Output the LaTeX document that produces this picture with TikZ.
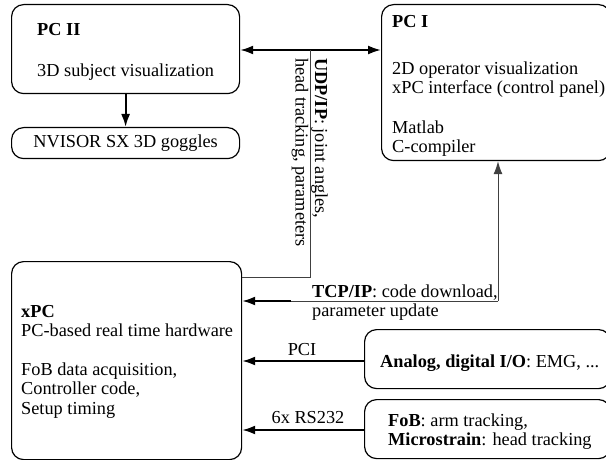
\documentclass[tikz,border=0pt]{standalone}
\usepackage{fontspec}
\setmainfont{Liberation Serif}
\usetikzlibrary{arrows.meta,calc}
\newcommand\dfont{\fontsize{18.3}{19.5}\selectfont}
\begin{document}
\begin{tikzpicture}[x=1pt,y=-1pt,
  box/.style={draw=black, line width=1.2pt, rounded corners=12pt, inner sep=0pt},
  tl/.style={inner sep=0pt, anchor=base west, font=\dfont},
  lbl/.style={inner sep=0pt, font=\dfont},
  arr/.style={line width=2pt, -{Latex[length=13pt,width=9pt]}},
  thinl/.style={draw=black!75, line width=1pt}]
\useasboundingbox (0,0) rectangle (606,460);
\clip (0,0) rectangle (606,460);
% boxes
\node[box, minimum width=228pt, minimum height=89pt, anchor=north west] (pc2) at (11,4) {};
\node[box, minimum width=228pt, minimum height=31pt, anchor=north west] (nv) at (11,127) {};
\node[box, minimum width=229pt, minimum height=156pt, anchor=north west] (pc1) at (381,4) {};
\node[box, minimum width=230pt, minimum height=198pt, anchor=north west] (xpc) at (11,261) {};
\node[box, minimum width=246pt, minimum height=59pt, anchor=north west] (an) at (364,329) {};
\node[box, minimum width=246pt, minimum height=59pt, anchor=north west] (fob) at (364,399) {};
% box texts
\node[tl] (pc2a) at (37,36) {\textbf{PC II}};
\node[tl] (pc2b) at (37,77) {3D subject visualization};
\node[lbl] (nvt) at (nv.center) {NVISOR SX 3D goggles};
\node[tl] (pc1a) at (392,28) {\textbf{PC I}};
\node[tl] (pc1b) at (392,74.5) {2D operator visualization};
\node[tl] (pc1c) at (392,94) {xPC interface (control panel)};
\node[tl] (pc1d) at (392,133) {Matlab};
\node[tl] (pc1e) at (392,152.5) {C-compiler};
\node[tl] (xpca) at (21,317) {\textbf{xPC}};
\node[tl] (xpcb) at (21,336.5) {PC-based real time hardware};
\node[tl] (xpcc) at (21,375) {FoB data acquisition,};
\node[tl] (xpcd) at (21,394.5) {Controller code,};
\node[tl] (xpce) at (21,414) {Setup timing};
\node[tl] (ant) at (380,367) {\textbf{Analog, digital I/O}: EMG, ...};
\node[tl] (fobt) at (388,426) {\textbf{FoB}: arm tracking,};
\node[tl] (mst) at (388,445.5) {\textbf{Microstrain}: head tracking};
% connectors
\coordinate (j1) at (310,50);
\coordinate (j2) at (310,277);
\draw[arr] (j1) -- (pc2.east |- j1);
\draw[arr] (j1) -- (pc1.west |- j1);
\draw[thinl] (j1) -- (j2) -- (xpc.east |- j2);
\draw[arr] (pc2.south) -- (nv.north);
\coordinate (t1) at (498,301);
\coordinate (t2) at (291,301);
\draw[thinl, -{Latex[length=13pt,width=9pt]}] (t1) -- (pc1.south -| t1);
\draw[thinl] (t1) -- (t2);
\draw[arr] (t2) -- (xpc.east |- t2);
\coordinate (p1) at (364,361);
\coordinate (p2) at (364,430);
\draw[arr] (p1) -- (xpc.east |- p1);
\draw[arr] (p2) -- (xpc.east |- p2);
% connector labels
\node[tl, rotate=-90] (udpa) at (315,58) {\textbf{UDP/IP}: joint angles,};
\node[tl, rotate=-90] (udpb) at (295.5,58) {head tracking, parameters};
\node[tl] (tcpa) at (312,297) {\textbf{TCP/IP}: code download,};
\node[tl] (tcpb) at (312,316.5) {parameter update};
\node[lbl] (pcil) at (302,350) {PCI};
\node[lbl] (rsl) at (308,418) {6x RS232};
\end{tikzpicture}
\end{document}
